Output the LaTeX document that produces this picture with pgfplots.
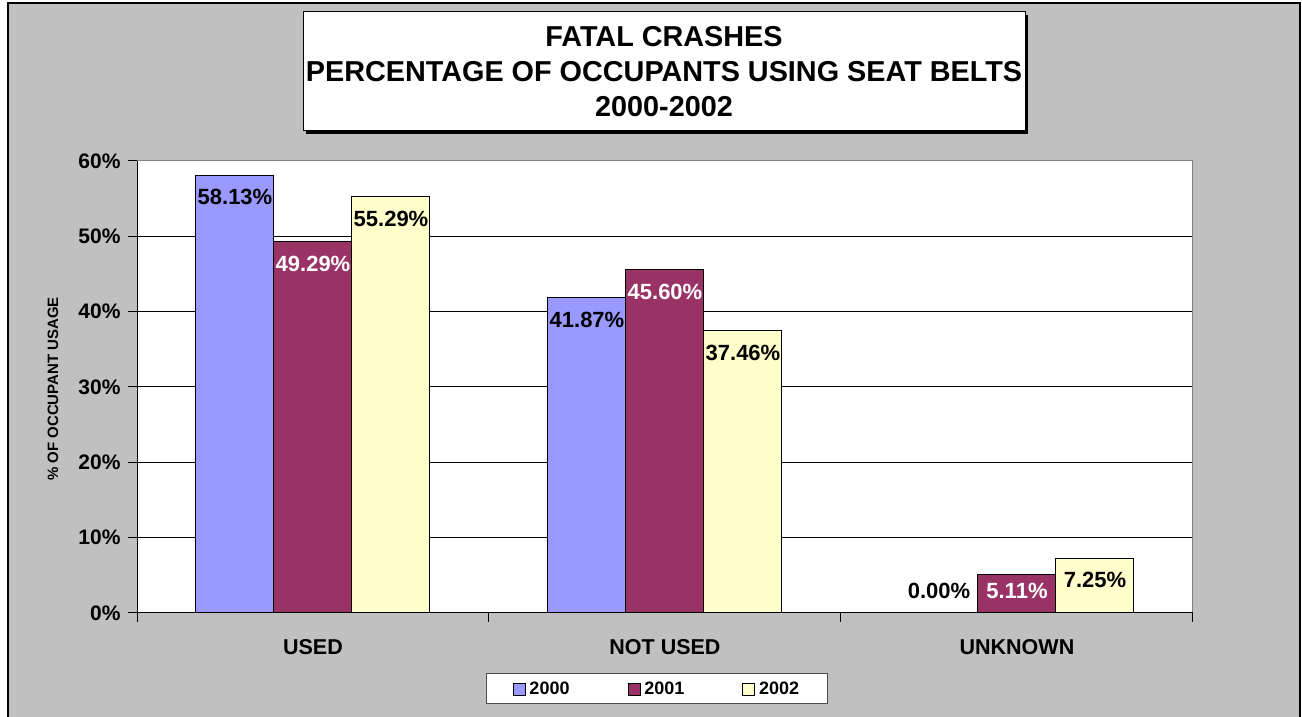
\documentclass[border=0pt]{standalone}
\usepackage{pgfplots}
\pgfplotsset{compat=1.18}
\usepackage{fontspec}
\setmainfont{Liberation Sans}
\definecolor{bg}{HTML}{C0C0C0}
\definecolor{c0}{HTML}{9999FF}
\definecolor{c1}{HTML}{993366}
\definecolor{c2}{HTML}{FFFFCC}
\begin{document}
\begin{tikzpicture}
\useasboundingbox (0pt,0pt) rectangle (1302pt,717pt);
\fill[white] (0pt,0pt) rectangle (1302pt,717pt);
\draw[black, line width=1.5pt, fill=bg] (8pt,-10pt) rectangle (1300pt,714pt);
% title box
\fill[black] (306pt,583pt) rectangle (1028pt,702pt);
\draw[black, line width=1pt, fill=white] (303pt,586pt) rectangle (1025pt,705pt);
\node[font=\fontsize{28.8}{35}\selectfont\bfseries, align=center] at (664pt,645pt) {FATAL CRASHES\\PERCENTAGE OF OCCUPANTS USING SEAT BELTS\\2000-2002};
\begin{axis}[
  at={(137pt,104pt)}, anchor=south west,
  width=1056pt, height=452pt, scale only axis,
  axis background/.style={fill=white},
  axis line style={draw=black!50, line width=1pt},
  ybar=0pt, bar width=78pt,
  xmin=-0.5, xmax=2.5, ymin=0, ymax=60,
  xtick={-0.5,0.5,1.5,2.5}, xticklabels={},
  extra x ticks={0,1,2},
  extra x tick labels={USED,NOT USED,UNKNOWN},
  extra x tick style={major tick length=0pt, grid=none},
  xtick pos=bottom, ytick pos=left,
  ytick={0,10,20,30,40,50,60},
  yticklabels={0\%,10\%,20\%,30\%,40\%,50\%,60\%},
  ymajorgrids,
  grid style={black, line width=1pt},
  tick align=outside, major tick length=9pt,
  tick style={black, line width=1pt},
  yticklabel style={font=\fontsize{21}{24}\selectfont\bfseries, xshift=-4pt},
  xticklabel style={font=\fontsize{21.5}{25}\selectfont\bfseries, yshift=-23pt},
  ylabel={\% OF OCCUPANT USAGE},
  ylabel style={font=\fontsize{15}{18}\selectfont\bfseries, at={(axis description cs:-0.0795,0.4956)}, anchor=center, rotate=0},
  point meta=explicit symbolic,
  nodes near coords,
  visualization depends on={rawy \as \rawy},
  every node near coord/.append style={font=\fontsize{22}{26}\selectfont\bfseries, anchor=center, yshift={max(-22,22-7.5333*\rawy)}},
  /pgfplots/ybar legend/.style={},
  legend columns=3,
  legend style={at={(axis description cs:0.4924,-0.168)}, anchor=center, draw=black!70, line width=1pt, fill=white, font=\fontsize{18}{21}\selectfont\bfseries, inner xsep=26pt, inner ysep=6pt, /tikz/every even column/.append style={column sep=56pt}, /tikz/every odd column/.append style={column sep=2pt}},
]
\addplot[fill=c0, draw=black, line width=1pt, legend image code/.code={\draw[fill=c0,draw=black,line width=0.8pt] (0pt,-6pt) rectangle (12pt,6pt);}] coordinates {(0,58.13)[58.13\%] (1,41.87)[41.87\%] (2,0)[0.00\%]};
\addplot[fill=c1, draw=black, line width=1pt, every node near coord/.append style={text=white}, legend image code/.code={\draw[fill=c1,draw=black,line width=0.8pt] (0pt,-6pt) rectangle (12pt,6pt);}] coordinates {(0,49.29)[49.29\%] (1,45.60)[45.60\%] (2,5.11)[5.11\%]};
\addplot[fill=c2, draw=black, line width=1pt, legend image code/.code={\draw[fill=c2,draw=black,line width=0.8pt] (0pt,-6pt) rectangle (12pt,6pt);}] coordinates {(0,55.29)[55.29\%] (1,37.46)[37.46\%] (2,7.25)[7.25\%]};
\legend{2000,2001,2002}
\draw[black, line width=1pt] (rel axis cs:0,1) -- (rel axis cs:0,0) -- (rel axis cs:1,0);
\end{axis}
\end{tikzpicture}
\end{document}
